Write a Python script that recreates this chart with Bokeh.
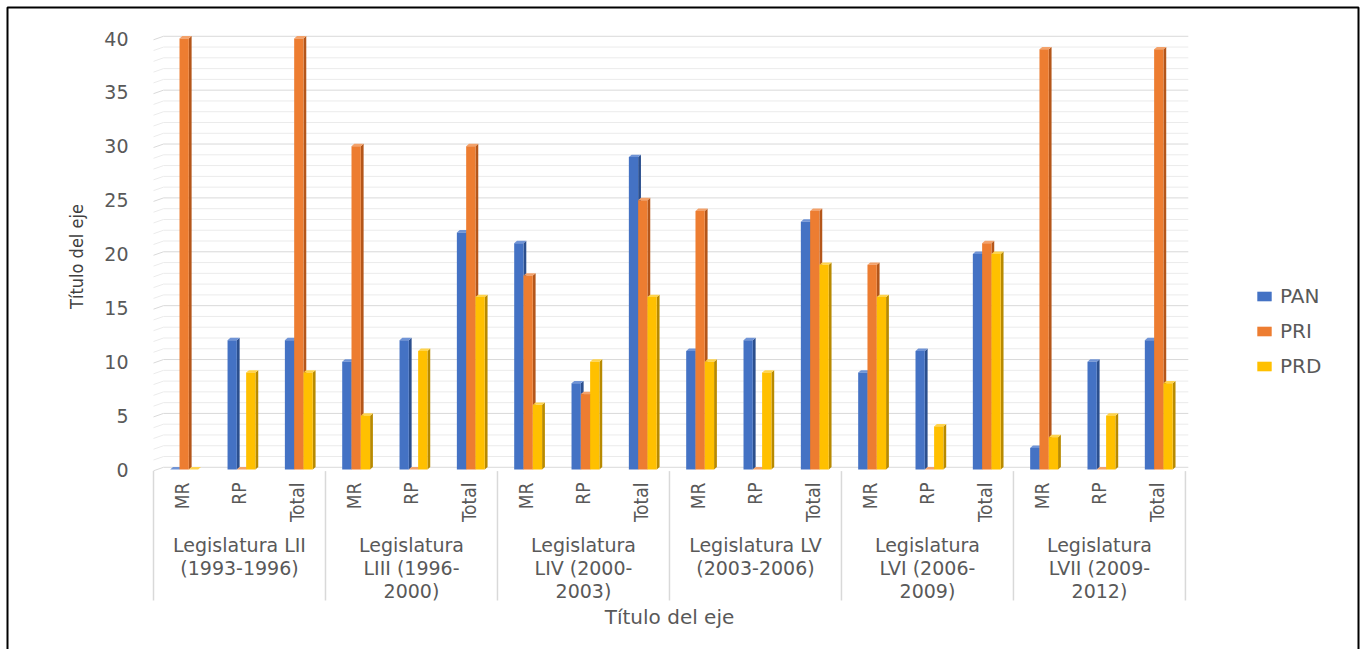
import math
from bokeh.plotting import figure
from bokeh.models import FixedTicker, Legend, LegendItem, LinearAxis, BoxAnnotation
from bokeh.core.properties import value
from bokeh.embed import file_html
from bokeh.resources import INLINE

# ---------------- data ----------------
legislaturas = [
    "Legislatura LII\n(1993-1996)",
    "Legislatura\nLIII (1996-\n2000)",
    "Legislatura\nLIV (2000-\n2003)",
    "Legislatura LV\n(2003-2006)",
    "Legislatura\nLVI (2006-\n2009)",
    "Legislatura\nLVII (2009-\n2012)",
]
tipos = ["MR", "RP", "Total"]
partidos = ["PAN", "PRI", "PRD"]
pan = [0, 12, 12, 10, 12, 22, 21, 8, 29, 11, 12, 23, 9, 11, 20, 2, 10, 12]
pri = [40, 0, 40, 30, 0, 30, 18, 7, 25, 24, 0, 24, 19, 0, 21, 39, 0, 39]
prd = [0, 9, 9, 5, 11, 16, 6, 10, 16, 10, 9, 19, 16, 4, 20, 3, 5, 8]
y_ticks = [0, 5, 10, 15, 20, 25, 30, 35, 40]
y_title = "Título del eje"
x_title = "Título del eje"

# ---------------- styles / layout ----------------
WIDE = "DejaVu Sans"
NARROW = "'Liberation Sans Narrow', 'DejaVu Sans Condensed', 'Liberation Sans', sans-serif"
GRAY = "#595959"
colors = {
    "PAN": ("#4472C4", "#2B4F8E", "#7094D6"),
    "PRI": ("#ED7D31", "#B4561A", "#F3A26B"),
    "PRD": ("#FFC000", "#B88A00", "#FFD44D"),
}

W, H = 1364, 649
X0PX, SLOT = 153, 57.33       # px of x=0, px per category slot
Y0PX, UNIT = 469, 10.775      # px of y=0, px per unit


def px2x(px):
    return (px - X0PX) / SLOT


def px2y(py):
    return (Y0PX - py) / UNIT


p = figure(width=W, height=H, x_range=(px2x(0), px2x(W)), y_range=(px2y(H), px2y(0)),
           output_backend="svg", toolbar_location=None, tools="",
           x_axis_location=None, y_axis_location=None,
           min_border_left=0, min_border_right=0, min_border_top=0, min_border_bottom=0)
p.xgrid.visible = False
p.ygrid.visible = False
p.outline_line_color = None
p.background_fill_color = "white"
p.border_fill_color = "white"

# y axis (fixed at the plot-area left edge)
ax = LinearAxis(fixed_location=px2x(150))
ax.ticker = FixedTicker(ticks=y_ticks, minor_ticks=[])
ax.axis_line_color = None
ax.major_tick_line_color = None
ax.minor_tick_line_color = None
ax.major_tick_out = 0
ax.major_label_standoff = 22
ax.major_label_text_font = WIDE
ax.major_label_text_font_size = "19px"
ax.major_label_text_color = GRAY
p.add_layout(ax, "left")

n_groups = len(legislaturas)
n_sub = len(tipos)
n = n_groups * n_sub
xmax = float(n)

# gridlines (back wall) with small perspective slant on the left
sl_dx = 10 / SLOT
sl_dy = 3.5 / UNIT
minor_xs, minor_ys, major_xs, major_ys = [], [], [], []
for v in range(y_ticks[0], y_ticks[-1] + 1):
    xs = [0, sl_dx, xmax + 0.05]
    ys = [v - 0.12, v - 0.12 + sl_dy, v - 0.12 + sl_dy]
    if v in y_ticks:
        major_xs.append(xs); major_ys.append(ys)
    else:
        minor_xs.append(xs); minor_ys.append(ys)
p.multi_line(minor_xs, minor_ys, line_color="#EBEBEB", line_width=1)
p.multi_line(major_xs, major_ys, line_color="#D9D9D9", line_width=1)

# category separators
bounds = [g * n_sub for g in range(n_groups + 1)]
p.segment(x0=bounds, y0=[-0.15] * len(bounds), x1=bounds, y1=[px2y(600)] * len(bounds),
          line_color="#D9D9D9", line_width=1.5)

# bars (front face + side face + top face)
pitch = 9.3 / SLOT
off = 2.0 / SLOT
dx = 2.8 / SLOT
dy = 2.4 / UNIT
fronts = {}
for k, (name, vals) in enumerate(zip(partidos, [pan, pri, prd])):
    cf, cs, ct = colors[name]
    lefts, rights = [], []
    side_xs, side_ys, top_xs, top_ys = [], [], [], []
    for i, v in enumerate(vals):
        xc = i + 0.5 + off + (k - 1) * pitch
        l, r = xc - pitch / 2, xc + pitch / 2
        lefts.append(l); rights.append(r)
        side_xs.append([r, r + dx, r + dx, r])
        side_ys.append([0, dy, v + dy, v])
        top_xs.append([l, l + dx, r + dx, r])
        top_ys.append([v, v + dy, v + dy, v])
    p.patches(side_xs, side_ys, fill_color=cs, line_color=None)
    p.patches(top_xs, top_ys, fill_color=ct, line_color=None)
    fronts[name] = p.quad(left=lefts, right=rights, bottom=[0] * n, top=vals,
                          fill_color=cf, line_color=None)

# category labels
sub_x = [i + 0.5 for i in range(n)]
sub_t = [tipos[i % n_sub] for i in range(n)]
p.text(x=sub_x, y=[px2y(482)] * n, text=sub_t, angle=math.pi / 2,
       text_align="right", text_baseline="middle",
       text_font=value(NARROW), text_font_size="19px", text_color=GRAY)

grp_x = [g * n_sub + n_sub / 2 for g in range(n_groups)]
p.text(x=grp_x, y=[px2y(533)] * n_groups, text=legislaturas,
       text_align="center", text_baseline="top", text_line_height=1.06,
       text_font=value(WIDE), text_font_size="19px", text_color=GRAY)

# axis titles
p.text(x=[px2x(76)], y=[px2y(256)], text=[y_title], angle=math.pi / 2,
       text_align="center", text_baseline="middle",
       text_font=value(NARROW), text_font_size="18px", text_color="#404040")
p.text(x=[px2x(669)], y=[px2y(616)], text=[x_title],
       text_align="center", text_baseline="middle",
       text_font=value(WIDE), text_font_size="20px", text_color=GRAY)

# legend
legend = Legend(items=[LegendItem(label=nm, renderers=[fronts[nm]]) for nm in partidos],
                location=(1255, 271), orientation="vertical", padding=0, margin=0,
                spacing=11, glyph_width=18, glyph_height=12, label_height=20,
                label_standoff=7, label_text_font=WIDE, label_text_font_size="20px",
                label_text_color=GRAY, border_line_color=None, background_fill_alpha=0)
p.add_layout(legend)

# outer frame box
p.add_layout(BoxAnnotation(left=px2x(7), right=px2x(1358), top=px2y(7), bottom=px2y(700),
                           fill_alpha=0, line_color="black", line_alpha=1.0, line_width=2))

open("out.html", "w").write(file_html(p, INLINE))
